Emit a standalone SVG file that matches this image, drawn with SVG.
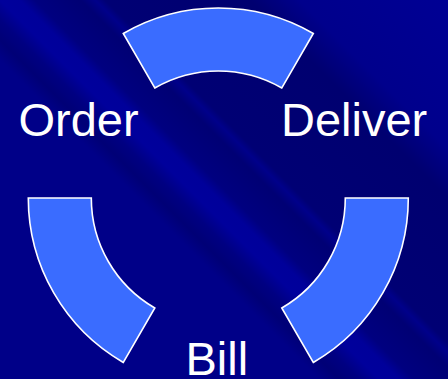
<svg xmlns="http://www.w3.org/2000/svg" width="448" height="379" viewBox="0 0 448 379">
  <defs>
    <linearGradient id="bg" gradientUnits="userSpaceOnUse" x1="-190" y1="190" x2="224" y2="-224">
      <stop offset="0" stop-color="#000088"/>
      <stop offset="0.386" stop-color="#000088"/>
      <stop offset="0.411" stop-color="#000076"/>
      <stop offset="0.435" stop-color="#000082"/>
      <stop offset="0.459" stop-color="#00009c"/>
      <stop offset="0.483" stop-color="#00009a"/>
      <stop offset="0.501" stop-color="#000080"/>
      <stop offset="0.556" stop-color="#000074"/>
      <stop offset="0.574" stop-color="#00008a"/>
      <stop offset="0.586" stop-color="#000074"/>
      <stop offset="0.761" stop-color="#000070"/>
      <stop offset="0.821" stop-color="#00008c"/>
      <stop offset="1" stop-color="#000094"/>
    </linearGradient>
    <style>
      .seg { fill: #3a6cff; stroke: #ffffff; stroke-width: 1.6; stroke-linejoin: miter; }
      .lbl { fill: #ffffff; font-family: "Liberation Sans", Arial, sans-serif; font-size: 47px; }
    </style>
  </defs>
  <rect x="0" y="0" width="448" height="379" fill="url(#bg)"/>
  <g id="connectors"/>
  <g id="segment-top">
    <path class="seg" d="M123.3,33.5 A190,190 0 0 1 313.3,33.5 L281.8,88 A127,127 0 0 0 154.8,88 Z"/>
  </g>
  <g id="segment-left">
    <path class="seg" d="M28.3,198 L91.3,198 A127,127 0 0 0 154.8,308 L123.3,362.5 A190,190 0 0 1 28.3,198 Z"/>
  </g>
  <g id="segment-right">
    <path class="seg" d="M408.3,198 L345.3,198 A127,127 0 0 1 281.8,308 L313.3,362.5 A190,190 0 0 0 408.3,198 Z"/>
  </g>
  <g id="node-order">
    <text class="lbl" x="18.5" y="136">Order</text>
  </g>
  <g id="node-deliver">
    <text class="lbl" x="281" y="136">Deliver</text>
  </g>
  <g id="node-bill">
    <text class="lbl" x="185.5" y="375">Bill</text>
  </g>
</svg>
